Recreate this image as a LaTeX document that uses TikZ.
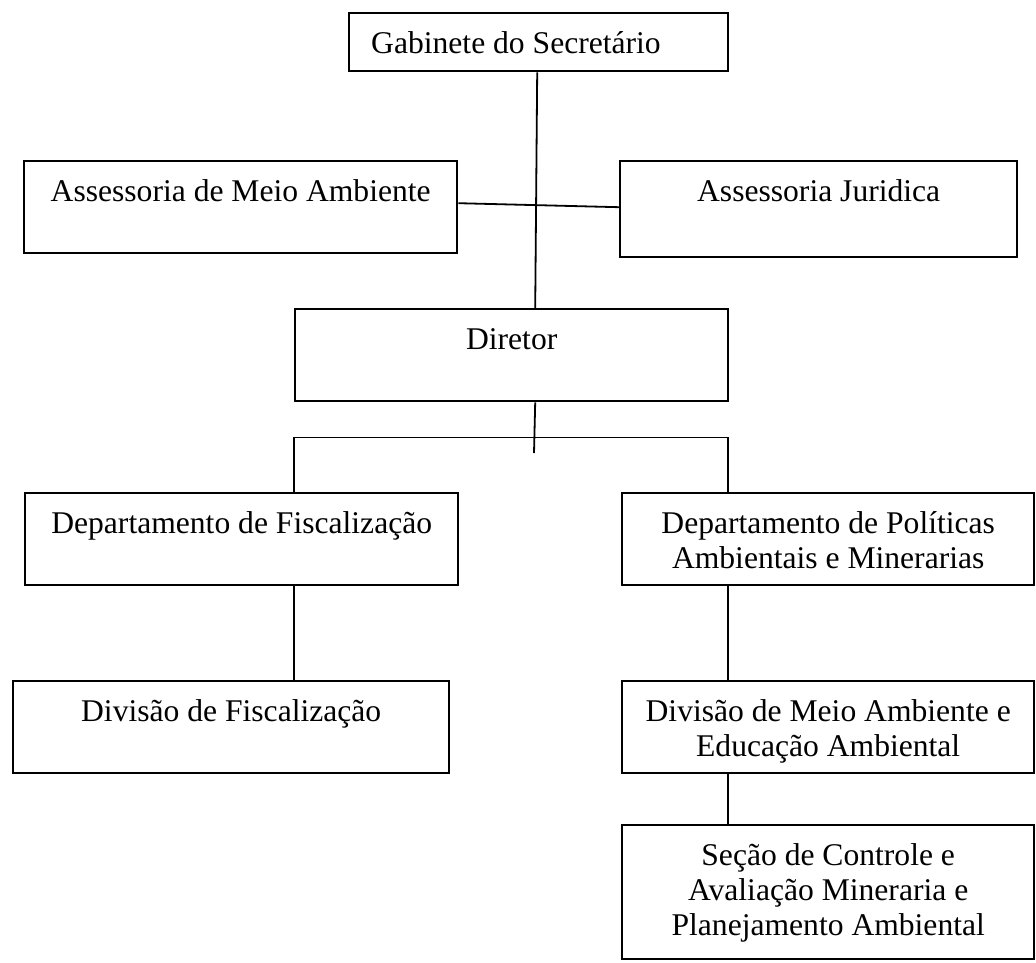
\documentclass[tikz,border=0pt]{standalone}
\usepackage{fontspec}
\setmainfont{Liberation Serif}
\usetikzlibrary{calc}

\begin{document}
\begin{tikzpicture}[
  x=0.5pt, y=-0.5pt,
  font=\fontsize{15.8pt}{17.5pt}\selectfont,
  orgbox/.style={draw=black, line width=1.2pt, anchor=north west, align=center,
                 inner xsep=0pt, inner ysep=0pt, text height=20pt, fill=white},
  twoline/.style={orgbox, text height=37.5pt},
  threeline/.style={orgbox, text height=55pt},
  link/.style={draw=black, line width=0.9pt},
]
\useasboundingbox (0,0) rectangle (1036,962);
% top
\node[orgbox, minimum width=189.5pt, text depth=9pt, text width=167.5pt,
      inner xsep=11pt, align=flush left] (gab) at (348,12) {Gabinete do Secretário};
% advisors
\node[orgbox, minimum width=216.5pt, text depth=26pt] (asma) at (23,160) {Assessoria de Meio Ambiente};
\node[orgbox, minimum width=198.5pt, text depth=28pt] (asju) at (619,160) {Assessoria Juridica};
% director
\node[orgbox, minimum width=216.5pt, text depth=26pt] (dir) at (294,308) {Diretor};
% departments
\node[orgbox, minimum width=216.5pt, text depth=26pt] (depf) at (24,492) {Departamento de Fiscalização};
\node[twoline, minimum width=206pt, text depth=8.5pt] (depp) at (621,492) {Departamento de Políticas\\Ambientais e Minerarias};
% divisions
\node[orgbox, minimum width=218pt, text depth=26pt] (divf) at (12,680) {Divisão de Fiscalização};
\node[twoline, minimum width=206pt, text depth=8.5pt] (divm) at (621,680) {Divisão de Meio Ambiente e\\Educação Ambiental};
% section
\node[threeline, minimum width=206pt, text depth=12pt] (sec) at (621,824) {Seção de Controle e\\Avaliação Mineraria e\\Planejamento Ambiental};

% bracket under the director
\coordinate (stub) at (534,453);
\coordinate (brl) at (294,437.5);
\coordinate (brr) at (728,437.5);

\draw[link] ([xshift=-0.75pt]gab.south) -- ([xshift=11.75pt]dir.north);
\draw[link] ([yshift=2pt]asma.east) -- ([yshift=1pt]asju.west);
\draw[link] ([xshift=11.75pt]dir.south) -- (stub);
\draw[link] (depf.north -| brl) -- (brl) -- (brr) -- (depp.north -| brr);
\draw[link] (depf.south -| brl) -- (divf.north -| brl);
\draw[link] (depp.south -| brr) -- (divm.north -| brr);
\draw[link] (divm.south -| brr) -- (sec.north -| brr);
\end{tikzpicture}
\end{document}
